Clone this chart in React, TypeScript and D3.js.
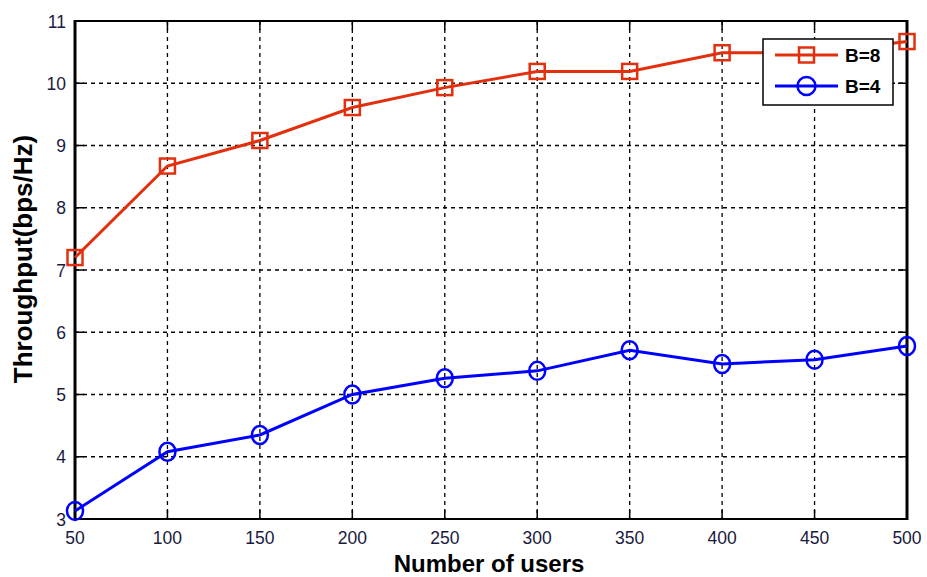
import React from "react";
import * as d3 from "d3";

const users = [50, 100, 150, 200, 250, 300, 350, 400, 450, 500];
const throughputB8 = [7.2, 8.67, 9.08, 9.61, 9.93, 10.19, 10.19, 10.49, 10.49, 10.67];
const throughputB4 = [3.13, 4.08, 4.35, 5.0, 5.26, 5.38, 5.71, 5.49, 5.56, 5.78];
const xTicks = [50, 100, 150, 200, 250, 300, 350, 400, 450, 500];
const yTicks = [3, 4, 5, 6, 7, 8, 9, 10, 11];

const W = 927;
const H = 577;
const M = { left: 75, top: 21, right: 907, bottom: 519 };

const RED = "#e2300e";
const BLUE = "#0000ff";
const TICK_COLOR = "#1a1a40";
const FONT = "Arial, 'Liberation Sans', sans-serif";

export default function App() {
  const x = d3.scaleLinear().domain([50, 500]).range([M.left, M.right]);
  const y = d3.scaleLinear().domain([3, 11]).range([M.bottom, M.top]);

  const line = d3
    .line<number>()
    .x((_, i) => x(users[i]))
    .y((d) => y(d));

  const tickLen = 9;

  return (
    <div style={{ position: "absolute", left: 0, top: 0 }}>
      <svg width={W} height={H} style={{ display: "block", background: "#fff" }}>
        {/* grid */}
        <g stroke="#000" strokeWidth={1.3} strokeDasharray="4,4">
          {xTicks.slice(1, -1).map((t) => (
            <line key={"gx" + t} x1={x(t)} x2={x(t)} y1={M.top} y2={M.bottom} />
          ))}
          {yTicks.slice(1, -1).map((t) => (
            <line key={"gy" + t} x1={M.left} x2={M.right} y1={y(t)} y2={y(t)} />
          ))}
        </g>

        {/* tick marks on all four sides */}
        <g stroke="#000" strokeWidth={1.5}>
          {xTicks.map((t) => (
            <g key={"tx" + t}>
              <line x1={x(t)} x2={x(t)} y1={M.bottom} y2={M.bottom - tickLen} />
              <line x1={x(t)} x2={x(t)} y1={M.top} y2={M.top + tickLen} />
            </g>
          ))}
          {yTicks.map((t) => (
            <g key={"ty" + t}>
              <line x1={M.left} x2={M.left + tickLen} y1={y(t)} y2={y(t)} />
              <line x1={M.right} x2={M.right - tickLen} y1={y(t)} y2={y(t)} />
            </g>
          ))}
        </g>

        {/* frame */}
        <line x1={M.left} x2={M.right} y1={M.top} y2={M.top} stroke="#000" strokeWidth={2} />
        <line x1={M.left} x2={M.right} y1={M.bottom} y2={M.bottom} stroke="#000" strokeWidth={2} />
        <line x1={M.left} x2={M.left} y1={M.top - 1} y2={M.bottom + 1} stroke="#000" strokeWidth={3} />
        <line x1={M.right} x2={M.right} y1={M.top - 1} y2={M.bottom + 1} stroke="#000" strokeWidth={3} />

        {/* tick labels */}
        <g fontFamily={FONT} fontSize={17.5} fill={TICK_COLOR}>
          {xTicks.map((t) => (
            <text key={"lx" + t} x={x(t)} y={544} textAnchor="middle">
              {t}
            </text>
          ))}
          {yTicks.map((t) => (
            <text key={"ly" + t} x={66} y={y(t) + 6.5} textAnchor="end">
              {t}
            </text>
          ))}
        </g>

        {/* series B=8 */}
        <path d={line(throughputB8) || ""} fill="none" stroke={RED} strokeWidth={3} />
        {throughputB8.map((v, i) => (
          <rect
            key={"r" + i}
            x={x(users[i]) - 7.5}
            y={y(v) - 7.5}
            width={15}
            height={15}
            fill="none"
            stroke={RED}
            strokeWidth={2.5}
          />
        ))}

        {/* series B=4 */}
        <path d={line(throughputB4) || ""} fill="none" stroke={BLUE} strokeWidth={3} />
        {throughputB4.map((v, i) => (
          <ellipse
            key={"c" + i}
            cx={x(users[i])}
            cy={y(v)}
            rx={8}
            ry={9}
            fill="none"
            stroke={BLUE}
            strokeWidth={2.5}
          />
        ))}

        {/* legend */}
        <g>
          <rect x={763} y={39} width={130} height={66} fill="#fff" stroke="#000" strokeWidth={1.5} />
          <line x1={775} x2={838} y1={55} y2={55} stroke={RED} strokeWidth={3} />
          <rect x={799} y={47.5} width={15} height={15} fill="none" stroke={RED} strokeWidth={2.5} />
          <line x1={775} x2={838} y1={86} y2={86} stroke={BLUE} strokeWidth={3} />
          <ellipse cx={806.5} cy={86} rx={9} ry={9} fill="none" stroke={BLUE} strokeWidth={2.5} />
          <g fontFamily={FONT} fontSize={19} fontWeight="bold" fill="#000">
            <text x={845} y={62}>B=8</text>
            <text x={845} y={93}>B=4</text>
          </g>
        </g>

        {/* axis titles */}
        <text
          x={489}
          y={572}
          textAnchor="middle"
          fontFamily={FONT}
          fontSize={24}
          fontWeight="bold"
          fill="#000"
        >
          Number of users
        </text>
        <text
          transform={`translate(32, 259) rotate(-90)`}
          textAnchor="middle"
          fontFamily={FONT}
          fontSize={26}
          fontWeight="bold"
          fill="#000"
        >
          Throughput(bps/Hz)
        </text>
      </svg>
    </div>
  );
}
